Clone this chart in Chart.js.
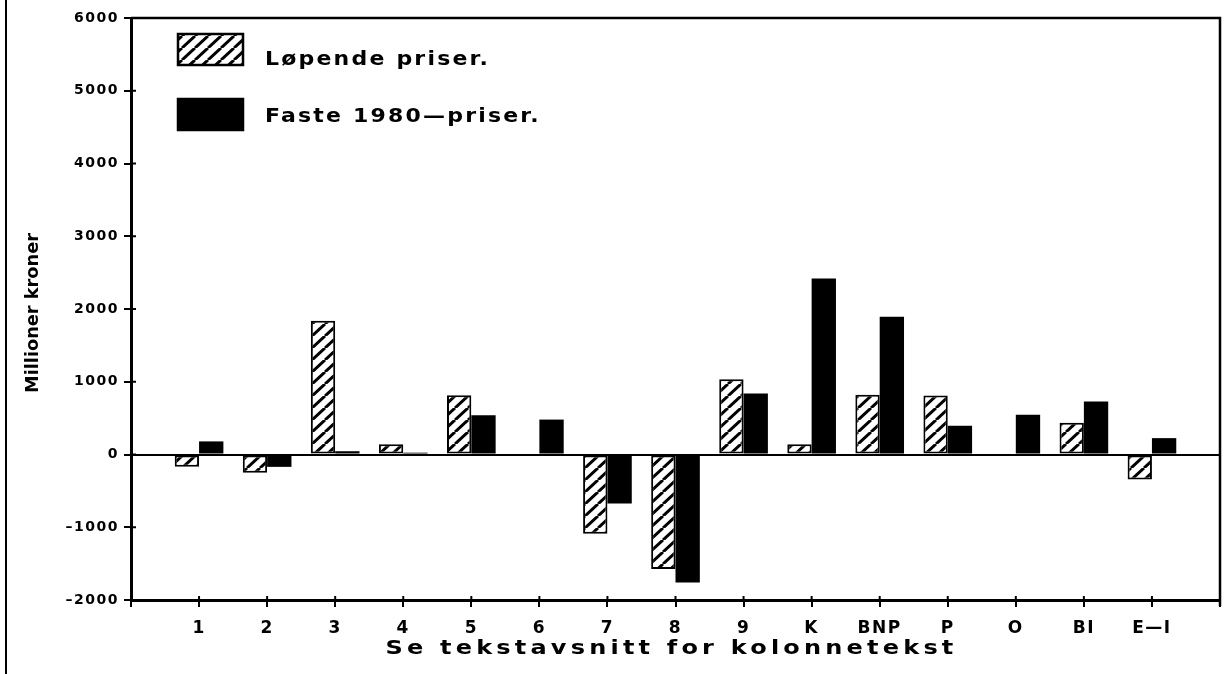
<!DOCTYPE html>
<html>
<head>
<meta charset="utf-8">
<script src="https://cdn.jsdelivr.net/npm/chart.js@4.4.0/dist/chart.umd.min.js"></script>
<style>
  html, body { margin: 0; padding: 0; background: #fff; }
  #wrap { width: 1231px; height: 674px; position: relative; }
</style>
</head>
<body>
<div id="wrap"><canvas id="myChart"></canvas></div>
<script>
// kolonner og verdier (millioner kroner)
const kategorier = ["1", "2", "3", "4", "5", "6", "7", "8", "9", "K", "BNP", "P", "O", "BI", "E—I"];
const lopendePriser = [-170, -250, 1840, 140, 815, 0, -1090, -1575, 1035, 140, 820, 810, 0, 435, -345];
const fastePriser = [180, -170, 45, 25, 540, 480, -675, -1760, 840, 2420, 1895, 395, 545, 730, 225];
const serieNavn = ["Løpende priser.", "Faste 1980—priser."];
const yMin = -2000;
const yMax = 6000;
const yStep = 1000;
const xTittel = "Se tekstavsnitt for kolonnetekst";
const yTittel = "Millioner kroner";

const ctx = document.getElementById("myChart").getContext("2d");

// skravert fyll for løpende priser
function lagSkravur() {
  const c = document.createElement("canvas");
  const w = 13, h = 12;
  c.width = w;
  c.height = h;
  const g = c.getContext("2d");
  g.fillStyle = "#fff";
  g.fillRect(0, 0, w, h);
  g.strokeStyle = "#000";
  g.lineWidth = 3;
  [[0, h, w, 0], [-w, h, 0, 0], [w, h, 2 * w, 0]].forEach((l) => {
    g.beginPath();
    g.moveTo(l[0], l[1]);
    g.lineTo(l[2], l[3]);
    g.stroke();
  });
  return ctx.createPattern(c, "repeat");
}
const skravur = lagSkravur();

/*------------------------------------------
Tekst, legende og ramme tegnes etter grafen
-------------------------------------------*/
const tegnTekst = {
  id: "tegnTekst",
  beforeDraw(chart) {
    chart.ctx.letterSpacing = "1.5px";
  },
  afterDraw(chart) {
    const c = chart.ctx;
    const a = chart.chartArea;
    const xs = chart.scales.x;
    const ys = chart.scales.y;
    c.save();
    c.letterSpacing = "0px";
    c.strokeStyle = "#000";
    c.fillStyle = "#000";

    // ramme topp og høyre
    c.lineWidth = 2.5;
    c.beginPath();
    c.moveTo(a.left, a.top);
    c.lineTo(a.right, a.top);
    c.lineTo(a.right, a.bottom + 6);
    c.stroke();

    // kant helt til venstre
    c.lineWidth = 2;
    c.beginPath();
    c.moveTo(6, 0);
    c.lineTo(6, chart.height);
    c.stroke();

    // tick-kryss inn i plottet
    c.lineWidth = 2;
    ys.ticks.forEach((t, i) => {
      const py = ys.getPixelForTick(i);
      c.beginPath();
      c.moveTo(a.left, py);
      c.lineTo(a.left + 5, py);
      c.stroke();
    });
    xs.ticks.forEach((t, i) => {
      const px = xs.getPixelForTick(i);
      c.beginPath();
      c.moveTo(px, a.bottom);
      c.lineTo(px, a.bottom - 4);
      c.stroke();
    });

    // legende
    const tekstY = [65, 122];
    chart.data.datasets.forEach((ds, i) => {
      const by = 34 + i * 65;
      c.fillStyle = ds.backgroundColor;
      c.fillRect(178, by, 65, 31);
      c.lineWidth = 2.5;
      c.strokeRect(178, by, 65, 31);
      c.fillStyle = "#000";
      c.save();
      c.translate(265, tekstY[i]);
      c.scale(1.1, 1);
      c.font = "bold 20px 'DejaVu Sans'";
      c.letterSpacing = "2px";
      c.textAlign = "left";
      c.textBaseline = "alphabetic";
      c.fillText(ds.label, 0, 0);
      c.restore();
    });

    // x-tittel
    c.save();
    c.translate((a.left + a.right) / 2 - 4, 654);
    c.scale(1.2, 1);
    c.font = "bold 20px 'DejaVu Sans'";
    c.letterSpacing = "3.5px";
    c.textAlign = "center";
    c.textBaseline = "alphabetic";
    c.fillText(xTittel, 0, 0);
    c.restore();

    // y-tittel, smal skrift
    c.letterSpacing = "0px";
    c.translate(33, (a.top + a.bottom) / 2 + 4);
    c.rotate(-Math.PI / 2);
    c.font = "bold 18px 'Liberation Sans Narrow', 'DejaVu Sans Condensed', 'Liberation Sans', sans-serif";
    const bredde = c.measureText(yTittel).width;
    c.scale(160 / bredde, 1);
    c.textAlign = "center";
    c.textBaseline = "middle";
    c.fillText(yTittel, 0, 0);
    c.restore();
  },
};

const myChart = new Chart(ctx, {
  type: "bar",
  data: {
    labels: ["", ...kategorier, ""],
    datasets: [
      {
        label: serieNavn[0],
        data: [null, ...lopendePriser, null],
        backgroundColor: skravur,
        borderColor: "#000",
        borderWidth: 2,
        borderSkipped: false,
        categoryPercentage: 0.715,
        barPercentage: 1.0,
      },
      {
        label: serieNavn[1],
        data: [null, ...fastePriser, null],
        backgroundColor: "#000",
        borderColor: "#000",
        borderWidth: 0,
        categoryPercentage: 0.715,
        barPercentage: 1.0,
      },
    ],
  },
  options: {
    responsive: true,
    maintainAspectRatio: false,
    animation: false,
    layout: { padding: { top: 18, right: 9, left: 0, bottom: 0 } },
    plugins: {
      legend: { display: false },
      tooltip: { enabled: false },
    },
    scales: {
      x: {
        offset: false,
        grid: {
          offset: false,
          drawOnChartArea: false,
          color: "#000",
          tickColor: "#000",
          tickLength: 7,
          lineWidth: 2,
        },
        border: { color: "#000", width: 3 },
        ticks: {
          color: "#000",
          autoSkip: false,
          maxRotation: 0,
          padding: 11,
          font: { family: "DejaVu Sans", weight: "bold", size: 17 },
        },
        afterFit(scale) {
          scale.height = 74;
        },
      },
      y: {
        min: yMin,
        max: yMax,
        grid: {
          drawOnChartArea: true,
          color: (c) => (c.tick && c.tick.value === 0 ? "#000" : "rgba(0,0,0,0)"),
          tickColor: "#000",
          tickLength: 7,
          lineWidth: 2,
        },
        border: { color: "#000", width: 3 },
        ticks: {
          stepSize: yStep,
          color: "#000",
          padding: 5,
          font: { family: "DejaVu Sans", weight: "bold", size: 14 },
          callback: (v) => (v < 0 ? "–" + Math.abs(v) : String(v)),
        },
        afterFit(scale) {
          scale.width = 131;
        },
      },
    },
  },
  plugins: [tegnTekst],
});
</script>
</body>
</html>
